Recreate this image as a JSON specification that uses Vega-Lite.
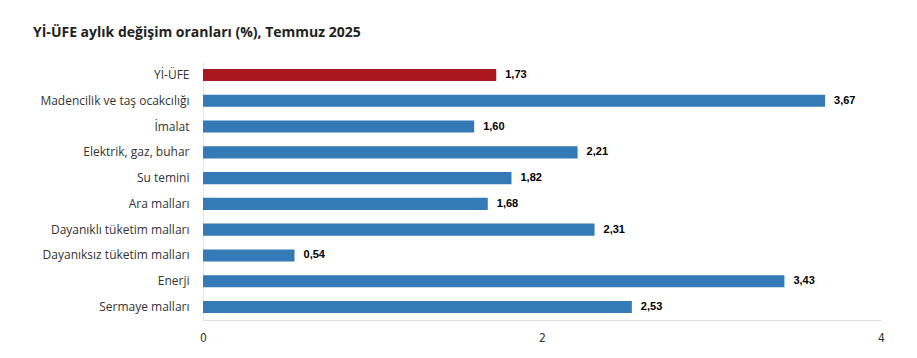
{
  "$schema": "https://vega.github.io/schema/vega-lite/v6.json",
  "autosize": "none",
  "width": 678,
  "height": 258,
  "padding": {"left": 203, "top": 62, "right": 36, "bottom": 38},
  "background": "white",
  "title": {
    "text": "Yİ-ÜFE aylık değişim oranları (%), Temmuz 2025",
    "anchor": "start",
    "frame": "group",
    "dx": -170,
    "offset": 22,
    "font": "Open Sans",
    "fontSize": 14,
    "fontWeight": "bold",
    "color": "#222222"
  },
  "data": {
    "values": [
      {"kategori": "Yİ-ÜFE", "deger": 1.73, "etiket": "1,73", "tip": "genel"},
      {"kategori": "Madencilik ve taş ocakcılığı", "deger": 3.67, "etiket": "3,67", "tip": "alt"},
      {"kategori": "İmalat", "deger": 1.60, "etiket": "1,60", "tip": "alt"},
      {"kategori": "Elektrik, gaz, buhar", "deger": 2.21, "etiket": "2,21", "tip": "alt"},
      {"kategori": "Su temini", "deger": 1.82, "etiket": "1,82", "tip": "alt"},
      {"kategori": "Ara malları", "deger": 1.68, "etiket": "1,68", "tip": "alt"},
      {"kategori": "Dayanıklı tüketim malları", "deger": 2.31, "etiket": "2,31", "tip": "alt"},
      {"kategori": "Dayanıksız tüketim malları", "deger": 0.54, "etiket": "0,54", "tip": "alt"},
      {"kategori": "Enerji", "deger": 3.43, "etiket": "3,43", "tip": "alt"},
      {"kategori": "Sermaye malları", "deger": 2.53, "etiket": "2,53", "tip": "alt"}
    ]
  },
  "encoding": {
    "y": {
      "field": "kategori",
      "type": "nominal",
      "sort": null,
      "scale": {"paddingInner": 0.53, "paddingOuter": 0.27},
      "axis": {
        "title": null,
        "ticks": false,
        "domain": true,
        "domainColor": "#e6e6e6",
        "labelPadding": 14,
        "labelFont": "Open Sans",
        "labelFontSize": 12,
        "labelColor": "#333333"
      }
    },
    "x": {
      "field": "deger",
      "type": "quantitative",
      "scale": {"domain": [0, 4], "nice": false},
      "axis": {
        "title": null,
        "values": [0, 2, 4],
        "grid": false,
        "ticks": false,
        "domain": true,
        "domainColor": "#e0e0e0",
        "labelFlush": false,
        "labelPadding": 12,
        "labelFont": "DejaVu Sans Condensed",
        "labelFontSize": 12,
        "labelColor": "#333333"
      }
    }
  },
  "layer": [
    {
      "mark": {"type": "bar"},
      "encoding": {
        "color": {
          "field": "tip",
          "type": "nominal",
          "scale": {"domain": ["genel", "alt"], "range": ["#ab171f", "#337ab7"]},
          "legend": null
        }
      }
    },
    {
      "mark": {
        "type": "text",
        "align": "left",
        "baseline": "middle",
        "dx": 9,
        "font": "Liberation Sans",
        "fontSize": 11,
        "fontWeight": "bold",
        "color": "#000000"
      },
      "encoding": {"text": {"field": "etiket", "type": "nominal"}}
    }
  ],
  "config": {"view": {"stroke": null}}
}
